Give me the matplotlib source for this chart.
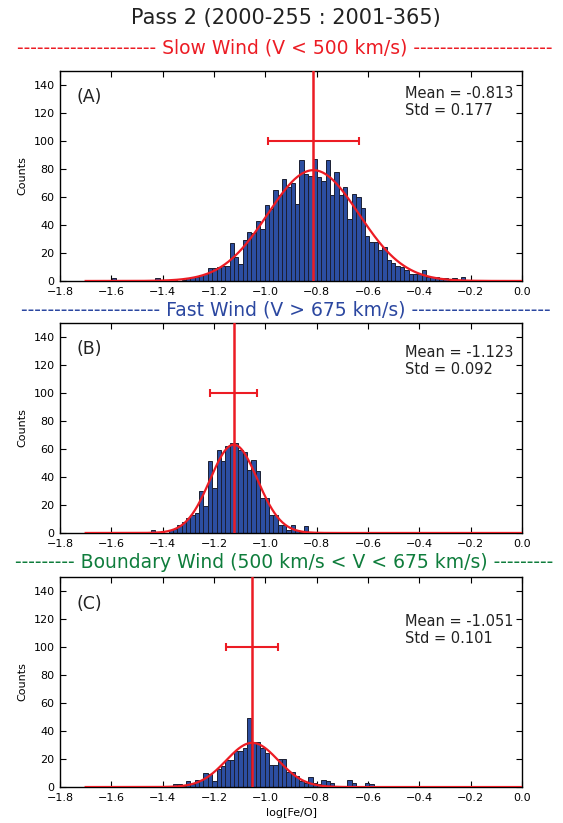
import matplotlib
matplotlib.use("Agg")
import matplotlib.pyplot as plt
import numpy as np

# histogram bins: 100 bins from -1.7 to 0.0
bin_lo = -1.7
bin_w = 0.017

# slow wind (V < 500 km/s), counts start at bin index 6
slow_first = 6
slow_counts = [2, 0, 0, 0, 0, 0, 0, 1, 0, 0, 2, 0, 0, 0, 1, 0, 1, 2, 3, 3,
               4, 5, 9, 9, 10, 11, 11, 27, 17, 12, 29, 35, 34, 43, 37, 54, 51, 65, 61, 73,
               67, 70, 55, 86, 76, 75, 87, 74, 71, 86, 61, 78, 61, 67, 44, 62, 60, 52, 32, 28,
               28, 22, 24, 15, 13, 11, 10, 8, 5, 5, 5, 8, 3, 3, 3, 2, 2, 1, 2, 0,
               3, 0, 0, 0, 0, 0, 0, 1]
slow_mean, slow_std, slow_peak = -0.813, 0.177, 79

# fast wind (V > 675 km/s), counts start at bin index 13
fast_first = 13
fast_counts = [1, 0, 2, 1, 1, 0, 2, 3, 6, 8, 11, 13, 14, 30, 19, 51, 32, 59, 51, 62,
               64, 64, 59, 58, 45, 52, 44, 25, 25, 13, 13, 6, 6, 2, 6, 2, 1, 5, 0, 1,
               0, 1, 0, 0, 0, 1]
fast_mean, fast_std, fast_peak = -1.123, 0.092, 63

# boundary wind (500 < V < 675 km/s), counts start at bin index 14
bnd_first = 14
bnd_counts = [1, 1, 0, 0, 0, 1, 2, 2, 1, 4, 2, 5, 5, 10, 9, 4, 13, 15, 19, 19,
              26, 26, 28, 49, 32, 32, 28, 24, 16, 16, 20, 20, 11, 11, 8, 4, 3, 7, 3, 2,
              5, 4, 3, 0, 1, 0, 5, 3, 0, 0, 3, 2, 0, 0, 0, 0, 0, 1]
bnd_mean, bnd_std, bnd_peak = -1.051, 0.101, 31.5

panel_tags = ['(A)', '(B)', '(C)']
text_tops = [139, 134, 123.5]

red = '#ec1c24'
bar_blue = '#2c4ea1'

fig = plt.figure(figsize=(5.63, 8.23), dpi=100)

fig.text(0.508, 0.978, 'Pass 2 (2000-255 : 2001-365)', fontsize=15,
         ha='center', va='center', color='#222222')
fig.text(0.506, 0.9417, '-' * 21 + ' Slow Wind (V < 500 km/s) ' + '-' * 21,
         fontsize=13.5, ha='center', va='center', color=red)
fig.text(0.508, 0.6233, '-' * 21 + ' Fast Wind (V > 675 km/s) ' + '-' * 21,
         fontsize=13.5, ha='center', va='center', color='#2b47a0')
fig.text(0.505, 0.3171, '-' * 9 + ' Boundary Wind (500 km/s < V < 675 km/s) ' + '-' * 9,
         fontsize=13.5, ha='center', va='center', color='#0f7d3c')

panels = [
    (slow_first, slow_counts, slow_mean, slow_std, slow_peak),
    (fast_first, fast_counts, fast_mean, fast_std, fast_peak),
    (bnd_first, bnd_counts, bnd_mean, bnd_std, bnd_peak),
]
bottoms = [0.6586, 0.3524, 0.0437]

xfit = np.linspace(-1.7, 0.0, 500)

for i, (first, counts, mean, std, peak) in enumerate(panels):
    ax = fig.add_axes([0.1066, bottoms[i], 0.8206, 0.2556])
    edges = bin_lo + bin_w * (first + np.arange(len(counts)))
    ax.bar(edges, counts, width=bin_w, align='edge', color=bar_blue,
           edgecolor='#1b1f33', linewidth=0.7, zorder=2)
    ax.plot(xfit, peak * np.exp(-0.5 * ((xfit - mean) / std) ** 2),
            color=red, lw=1.6, zorder=3)
    ax.axvline(mean, color=red, lw=1.8, zorder=4)
    ax.errorbar(mean, 100, xerr=std, color=red, lw=1.5, capsize=3,
                capthick=1.5, zorder=4)

    ax.text(-0.456, text_tops[i], 'Mean = %.3f\nStd = %.3f' % (mean, std),
            fontsize=10.5, va='top', ha='left', color='#222222')
    ax.text(0.035, 0.915, panel_tags[i], transform=ax.transAxes,
            fontsize=12.5, va='top', ha='left', color='#222222')

    ax.set_xlim(-1.8, 0.0)
    ax.set_ylim(0, 150)
    ax.set_xticks(np.arange(-1.8, 0.01, 0.2))
    ax.set_yticks(np.arange(0, 141, 20))
    ax.tick_params(direction='in', top=True, right=True, length=4,
                   labelsize=8, pad=4)
    ax.set_ylabel('Counts', fontsize=8)
    for s in ax.spines.values():
        s.set_linewidth(1.0)
    if i == 2:
        ax.set_xlabel('log[Fe/O]', fontsize=8, labelpad=4)

fig.savefig('out.png', dpi=100)
